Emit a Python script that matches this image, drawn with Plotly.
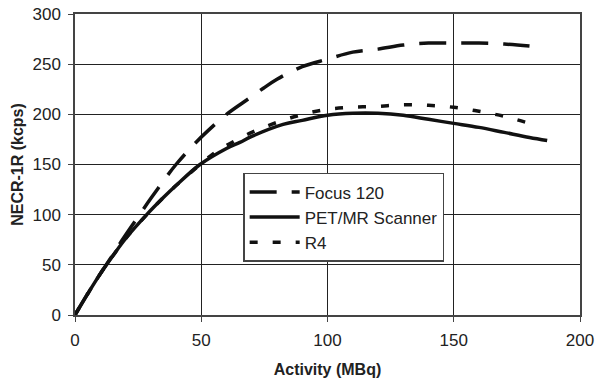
import plotly.graph_objects as go

focus_x = [0, 5, 10, 15, 18.5, 26.4, 30, 36, 40, 47.5, 52.8, 60, 69, 74.6, 80, 90, 100, 110, 120, 130, 140, 150, 160, 170, 180]
focus_y = [0, 21, 41, 60, 74, 103, 116, 137, 150, 171, 184, 200, 216, 226, 235, 247.5, 255, 262, 265, 269, 271, 271, 271, 270, 268]

petmr_x = [0, 5, 10, 15, 20, 28.4, 35, 40, 49.5, 60, 65.3, 70, 82.4, 90, 100, 110, 120, 130, 140, 150, 160, 170, 180, 187]
petmr_y = [0, 21, 41, 59, 76, 100, 117, 129, 150, 166, 172, 178, 190, 194, 199, 201, 201, 199, 195, 191, 187, 182, 177, 174]

r4_x = [0, 5, 10, 15, 20, 28.4, 35, 40, 50, 56, 61.4, 70, 80, 90.3, 100, 110, 120, 130, 140, 150, 160, 170, 180]
r4_y = [0, 21, 41, 59, 76, 100, 117, 129, 151, 163, 171, 182, 192, 200, 205, 207, 208, 209.5, 209, 207, 203, 198, 191]

x_ticks = [0, 50, 100, 150, 200]
y_ticks = [0, 50, 100, 150, 200, 250, 300]

fig = go.Figure()
fig.add_trace(go.Scatter(x=focus_x, y=focus_y, mode="lines", name="Focus 120",
                         line=dict(color="#111", width=3.5, dash="27px,15px", shape="spline")))
fig.add_trace(go.Scatter(x=petmr_x, y=petmr_y, mode="lines", name="PET/MR Scanner",
                         line=dict(color="#111", width=3.5, shape="spline")))
fig.add_trace(go.Scatter(x=r4_x, y=r4_y, mode="lines", name="R4",
                         line=dict(color="#111", width=3.5, dash="8px,15px", shape="spline")))

axis_common = dict(showgrid=True, gridcolor="#222", gridwidth=1, showline=True, linecolor="#444",
                   linewidth=1.5, mirror=True, ticks="outside", ticklen=5, tickcolor="#444",
                   zeroline=False, automargin=False, ticklabelstandoff=4, ticklabeloverflow="allow",
                   tickfont=dict(family="Liberation Sans", size=17, color="#222"))

fig.update_xaxes(range=[0, 200], tickvals=x_ticks,
                 title=dict(text="<b>Activity (MBq)</b>", font=dict(family="Liberation Sans", size=16, color="#222"), standoff=15),
                 **axis_common)
fig.update_yaxes(range=[0, 300], tickvals=y_ticks,
                 title=dict(text="<b>NECR-1R (kcps)</b>", font=dict(family="Liberation Sans", size=16, color="#222"), standoff=5),
                 **axis_common)

fig.update_layout(
    width=600, height=388,
    margin=dict(l=75, r=20, t=14, b=73),
    paper_bgcolor="white", plot_bgcolor="white",
    font=dict(family="Liberation Sans", size=17, color="#222"),
    legend=dict(x=0.333, y=0.472, xanchor="left", yanchor="top",
                bgcolor="white", bordercolor="#444", borderwidth=1.5,
                font=dict(size=17), itemwidth=50),
    showlegend=True,
)

fig.write_html("out.html", config={"displayModeBar": False},
               post_script="document.body.style.margin='0';")
